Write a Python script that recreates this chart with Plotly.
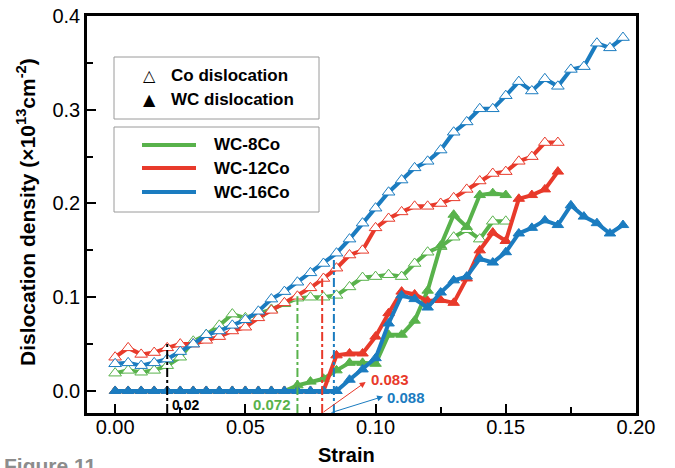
import plotly.graph_objects as go

# ---------------- data ----------------
strain = [0.000, 0.005, 0.010, 0.015, 0.020, 0.025, 0.030, 0.035, 0.040, 0.045,
          0.050, 0.055, 0.060, 0.065, 0.070, 0.075, 0.080, 0.085, 0.090, 0.095,
          0.100, 0.105, 0.110, 0.115, 0.120, 0.125, 0.130, 0.135, 0.140, 0.145,
          0.150, 0.155, 0.160, 0.165, 0.170, 0.175, 0.180, 0.185, 0.190, 0.195]

co_8 = [0.019, 0.022, 0.020, 0.022, 0.027, 0.036, 0.053, 0.060, 0.070, 0.082,
        0.078, 0.082, 0.087, 0.093, 0.099, 0.100, 0.100, 0.102, 0.111, 0.121,
        0.122, 0.124, 0.122, 0.136, 0.148, 0.154, 0.164, 0.172, 0.162, 0.181, 0.181]
co_12 = [0.036, 0.046, 0.039, 0.041, 0.046, 0.050, 0.050, 0.054, 0.058, 0.064,
         0.068, 0.078, 0.086, 0.094, 0.101, 0.110, 0.120, 0.131, 0.145, 0.150,
         0.174, 0.184, 0.191, 0.197, 0.197, 0.200, 0.206, 0.215, 0.224, 0.232,
         0.234, 0.245, 0.250, 0.265, 0.265]
co_16 = [0.029, 0.030, 0.027, 0.030, 0.034, 0.042, 0.050, 0.060, 0.064, 0.070,
         0.076, 0.085, 0.098, 0.106, 0.116, 0.126, 0.136, 0.147, 0.162, 0.179,
         0.195, 0.212, 0.225, 0.238, 0.245, 0.257, 0.276, 0.287, 0.301, 0.301,
         0.315, 0.330, 0.320, 0.333, 0.325, 0.343, 0.346, 0.371, 0.366, 0.377]

wc_8 = [0, 0, 0, 0, 0, 0, 0, 0, 0, 0, 0, 0, 0, 0,
        0.006, 0.010, 0.013, 0.022, 0.030, 0.030, 0.029, 0.060, 0.060, 0.075,
        0.107, 0.155, 0.188, 0.175, 0.209, 0.211, 0.209]
wc_12 = [0, 0, 0, 0, 0, 0, 0, 0, 0, 0, 0, 0, 0, 0, 0, 0, 0,
         0.038, 0.040, 0.040, 0.058, 0.083, 0.106, 0.103, 0.096, 0.097, 0.094,
         0.120, 0.150, 0.169, 0.160, 0.205, 0.209, 0.215, 0.234]
wc_16 = [0, 0, 0, 0, 0, 0, 0, 0, 0, 0, 0, 0, 0, 0, 0, 0, 0, 0,
         0.012, 0.023, 0.035, 0.072, 0.102, 0.098, 0.089, 0.105, 0.118, 0.122,
         0.141, 0.137, 0.148, 0.168, 0.174, 0.182, 0.177, 0.198, 0.186, 0.179,
         0.168, 0.177]

series_names = ["WC-8Co", "WC-12Co", "WC-16Co"]
x_ticks = [0.00, 0.05, 0.10, 0.15, 0.20]
y_ticks = [0.0, 0.1, 0.2, 0.3, 0.4]

# threshold markers (strain, height reached by the guide line)
thr_black = (0.020, 0.052)
thr_green = (0.070, 0.101)
thr_red = (0.0795, 0.120)
thr_blue = (0.084, 0.140)
thr_labels = ["0.02", "0.072", "0.083", "0.088"]

# ---------------- style ----------------
GREEN = "#58b24b"
RED = "#e83a2b"
BLUE = "#1b7cc0"
colors = [GREEN, RED, BLUE]
FONT = "Liberation Sans, Arial, sans-serif"

W, H = 675, 468
L, R, T, B = 87, 636, 16, 413


def px(x):
    return (x - L) / (R - L)


def py(y):
    return (B - y) / (B - T)


fig = go.Figure()

co_all = [co_8, co_12, co_16]
wc_all = [wc_8, wc_12, wc_16]

for vals, c, n in zip(co_all, colors, series_names):
    fig.add_trace(go.Scatter(
        x=strain[:len(vals)], y=vals, mode="lines+markers", name=n + " Co",
        line=dict(color=c, width=4),
        marker=dict(symbol="triangle-up", size=11, color="white",
                    line=dict(color=c, width=1)),
        showlegend=False))

for vals, c, n in zip(wc_all, colors, series_names):
    fig.add_trace(go.Scatter(
        x=strain[:len(vals)], y=vals, mode="lines+markers", name=n + " WC",
        line=dict(color=c, width=4),
        marker=dict(symbol="triangle-up", size=10, color=c,
                    line=dict(color=c, width=1)),
        showlegend=False))

ymin = -0.0235
shapes = []
for (xv, yv), c in zip([thr_black, thr_green, thr_red, thr_blue],
                       ["black", GREEN, RED, BLUE]):
    shapes.append(dict(type="line", xref="x", yref="y", x0=xv, x1=xv,
                       y0=ymin, y1=yv, line=dict(color=c, width=2, dash="dashdot")))

# legend boxes
shapes.append(dict(type="rect", xref="paper", yref="paper",
                   x0=px(114), x1=px(319), y0=py(119), y1=py(57),
                   line=dict(color="#9a9a9a", width=1)))
shapes.append(dict(type="rect", xref="paper", yref="paper",
                   x0=px(114), x1=px(319), y0=py(212), y1=py(127),
                   line=dict(color="#9a9a9a", width=1)))
for c, yy in zip(colors, [145, 168, 192]):
    shapes.append(dict(type="line", xref="paper", yref="paper",
                       x0=px(142), x1=px(196), y0=py(yy), y1=py(yy),
                       line=dict(color=c, width=4)))


def text(xp, yp, s, size, color="black", xanchor="center", yanchor="middle",
         family=FONT, **kw):
    return dict(xref="paper", yref="paper", x=px(xp), y=py(yp), text=s,
                xanchor=xanchor, yanchor=yanchor, showarrow=False,
                font=dict(family=family, size=size, color=color), **kw)


ann = []
# legend text
ann.append(text(149, 76, "△", 16, family="DejaVu Sans"))
ann.append(text(149, 99, "▲", 16, family="DejaVu Sans"))
ann.append(text(169, 76, "<b>Co dislocation</b>", 17, xanchor="left"))
ann.append(text(169, 99, "<b>WC dislocation</b>", 17, xanchor="left"))
for n, yy in zip(series_names, [145, 168, 192]):
    ann.append(text(212, yy, "<b>%s</b>" % n, 17, xanchor="left"))

# threshold labels
ann.append(text(185, 405, "<b>%s</b>" % thr_labels[0], 14))
ann.append(text(272, 404, "<b>%s</b>" % thr_labels[1], 15, GREEN))
ann.append(text(390, 379, "<b>%s</b>" % thr_labels[2], 15, RED))
ann.append(text(406, 397, "<b>%s</b>" % thr_labels[3], 15, BLUE))
# arrows
ann.append(dict(xref="x", yref="y", axref="x", ayref="y", x=0.0962, y=0.0096,
                ax=thr_red[0], ay=ymin, text="", showarrow=True, arrowhead=2,
                arrowsize=1.2, arrowwidth=1, arrowcolor=RED, standoff=0, startstandoff=0))
ann.append(dict(xref="x", yref="y", axref="x", ayref="y", x=0.1029, y=-0.0059,
                ax=thr_blue[0] - 0.0015, ay=ymin, text="", showarrow=True, arrowhead=2,
                arrowsize=1.2, arrowwidth=1, arrowcolor=BLUE, standoff=0, startstandoff=0))

# axis titles
ann.append(text(346, 455, "<b>Strain</b>", 20))
ann.append(text(26, 212, "<b>Dislocation density (×10<sup>13</sup>cm<sup>-2</sup>)</b>", 21,
                textangle=-90))
# figure label
ann.append(text(2, 452, "<b>Figure 11</b>", 21, "#8c8c8c", xanchor="left", yanchor="top"))

fig.update_layout(
    template="none",
    width=W, height=H,
    margin=dict(l=L, r=W - R, t=T, b=H - B, pad=0, autoexpand=False),
    paper_bgcolor="white", plot_bgcolor="white",
    shapes=shapes, annotations=ann, showlegend=False,
    font=dict(family=FONT, color="black"),
)
fig.update_xaxes(
    automargin=False,
    range=[-0.0108, 0.2], tickvals=x_ticks, ticktext=["%.2f" % v for v in x_ticks],
    ticks="inside", ticklen=9, tickwidth=2, tickcolor="black",
    ticklabelstandoff=-6,
    minor=dict(ticks="inside", ticklen=6, tickwidth=2, tickcolor="black", dtick=0.025, tick0=0.025),
    showline=True, linecolor="black", linewidth=2.5, mirror=True,
    showgrid=False, zeroline=False,
    tickfont=dict(family=FONT, size=20, color="black"),
)
fig.update_yaxes(
    automargin=False,
    range=[ymin, 0.4], tickvals=y_ticks, ticktext=["%.1f" % v for v in y_ticks],
    ticks="inside", ticklen=9, tickwidth=2, tickcolor="black",
    minor=dict(ticks="inside", ticklen=6, tickwidth=2, tickcolor="black", dtick=0.05, tick0=0.05),
    showline=True, linecolor="black", linewidth=2.5, mirror=True,
    showgrid=False, zeroline=False,
    tickfont=dict(family=FONT, size=20, color="black"),
)

fig.write_html("out.html", config={"displayModeBar": False},
               post_script="document.body.style.margin='0';document.body.style.padding='0';")
